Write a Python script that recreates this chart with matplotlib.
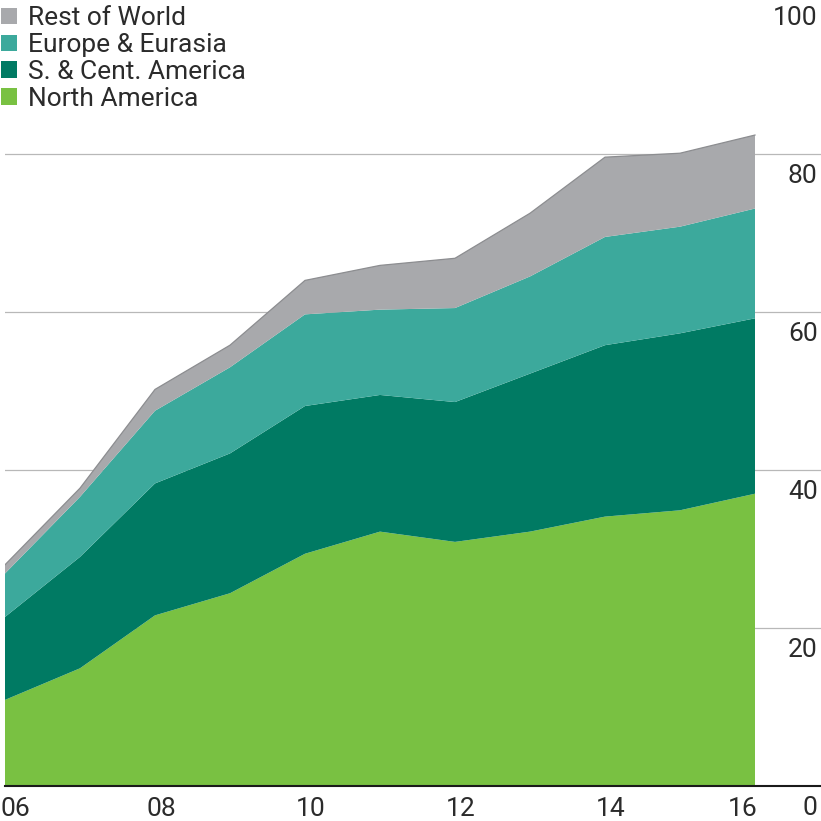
import matplotlib
matplotlib.use("Agg")
import matplotlib.pyplot as plt
import matplotlib.transforms as mtransforms

# ------------------------------------------------------------
# Dados
# ------------------------------------------------------------
anos = [2006, 2007, 2008, 2009, 2010, 2011, 2012, 2013, 2014, 2015, 2016]
north_america = [10.9, 14.9, 21.6, 24.4, 29.4, 32.2, 30.9, 32.2, 34.1, 34.9, 37.0]
sc_america = [10.5, 14.1, 16.7, 17.7, 18.7, 17.3, 17.7, 20.0, 21.7, 22.4, 22.2]
europe_eurasia = [5.5, 7.6, 9.2, 10.9, 11.6, 10.8, 11.9, 12.3, 13.7, 13.5, 13.9]
rest_of_world = [1.1, 1.1, 2.7, 2.8, 4.3, 5.6, 6.3, 8.0, 10.1, 9.3, 9.3]

nomes = ["North America", "S. & Cent. America", "Europe & Eurasia", "Rest of World"]
cores = ["#79c142", "#007a63", "#3ca99c", "#a8a9ac"]

anos_rotulo = [2006, 2008, 2010, 2012, 2014, 2016]
rotulos_x = ["06", "08", "10", "12", "14", "16"]
ticks_y = [0, 20, 40, 60, 80, 100]

plt.rcParams["font.family"] = ["Roboto", "DejaVu Sans"]
cor_texto = "#2b2b2b"

fig = plt.figure(figsize=(8.21, 8.21), dpi=100)
ax = fig.add_axes([5 / 821, 35 / 821, 816 / 821, 790 / 821])

# área empilhada
polis = ax.stackplot(anos, north_america, sc_america, europe_eurasia, rest_of_world,
                     colors=cores, linewidth=0, zorder=2)

# contorno fino no topo da pilha
topo = [a + b + c + d for a, b, c, d in zip(north_america, sc_america, europe_eurasia, rest_of_world)]
ax.plot(anos, topo, color="#8c8d90", linewidth=0.9, zorder=3)

ax.set_xlim(2006, 2006 + 816 / 75)
ax.set_ylim(0, 100)

# grade horizontal
for v in [20, 40, 60, 80]:
    ax.axhline(v, color="#b8b8b8", linewidth=0.9, zorder=1)

for lado in ["top", "left", "right"]:
    ax.spines[lado].set_visible(False)
ax.spines["bottom"].set_color("#1a1a1a")
ax.spines["bottom"].set_linewidth(1.5)
ax.spines["bottom"].set_zorder(4)

# eixo x
ax.set_xticks(anos_rotulo)
ax.set_xticklabels(rotulos_x, fontsize=19, color=cor_texto)
ax.tick_params(axis="x", length=0, pad=8)
rot = ax.get_xticklabels()
rot[0].set_ha("left")
rot[-1].set_ha("right")
for r in rot[1:-1]:
    r.set_transform(r.get_transform() + mtransforms.ScaledTranslation(6 / 100, 0, fig.dpi_scale_trans))
rot[0].set_transform(rot[0].get_transform() + mtransforms.ScaledTranslation(-5 / 100, 0, fig.dpi_scale_trans))
rot[-1].set_transform(rot[-1].get_transform() + mtransforms.ScaledTranslation(3 / 100, 0, fig.dpi_scale_trans))

# eixo y (rótulos à direita, abaixo da linha de grade)
ax.set_yticks([])
trans_y = mtransforms.blended_transform_factory(ax.transAxes, ax.transData)
trans_y = trans_y + mtransforms.ScaledTranslation(0, -22 / 100, fig.dpi_scale_trans)
for v in ticks_y:
    ax.text(0.996, v, str(v), transform=trans_y, ha="right", va="center",
            fontsize=19, color=cor_texto, clip_on=False)

# legenda
leg = ax.legend(polis[::-1], nomes[::-1], loc="upper left",
                bbox_to_anchor=(0.0, 1.0 - 5 / 821), bbox_transform=fig.transFigure,
                frameon=False, fontsize=19, handlelength=0.6, handleheight=0.6,
                handletextpad=0.42, labelspacing=0.11, borderpad=0.05, borderaxespad=0.0)
for t in leg.get_texts():
    t.set_color(cor_texto)

plt.savefig("out.png", dpi=100)
